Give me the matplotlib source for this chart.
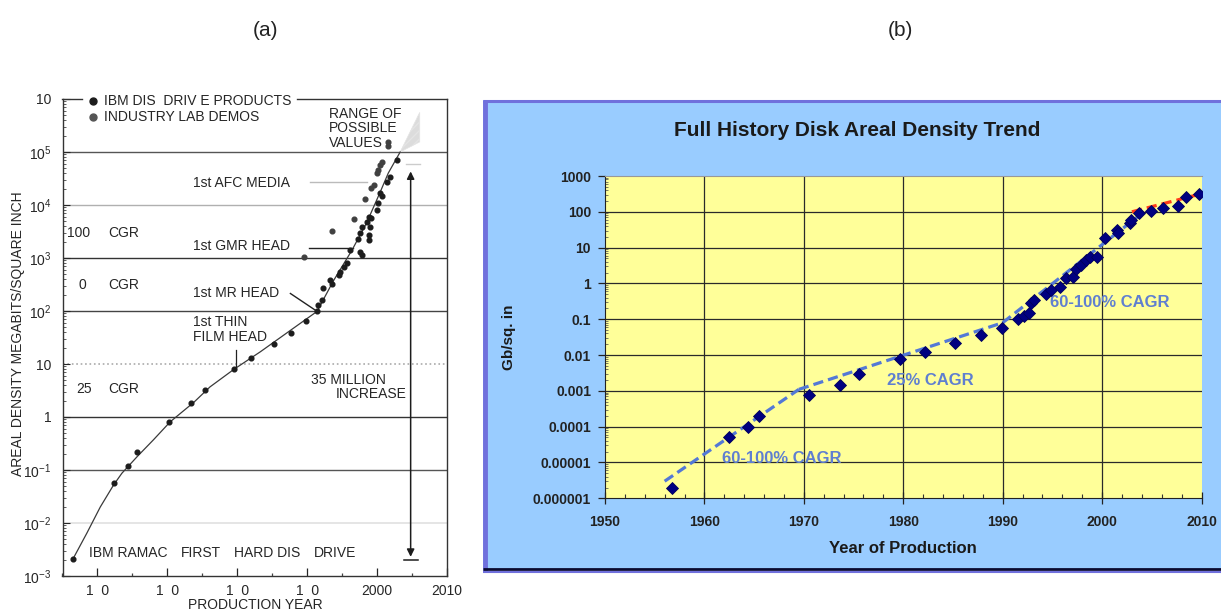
import matplotlib
matplotlib.use("Agg")
import matplotlib.pyplot as plt
from matplotlib.patches import Rectangle, Polygon
from matplotlib.lines import Line2D
from matplotlib.ticker import FixedLocator, MultipleLocator, LogLocator, NullFormatter, FixedFormatter

plt.rcParams['font.family'] = ['Liberation Sans', 'DejaVu Sans']
plt.rcParams['mathtext.fontset'] = 'custom'
plt.rcParams['mathtext.rm'] = 'Liberation Sans'
plt.rcParams['mathtext.it'] = 'Liberation Sans:italic'
plt.rcParams['mathtext.bf'] = 'Liberation Sans:bold'

# ---------------- (a) IBM areal density history, Mbit / sq. inch ----------------
ibm_years = [1956.5, 1962.3, 1964.3, 1965.6, 1970.3, 1973.4, 1975.4, 1979.6, 1982.0,
             1985.3, 1987.7, 1989.8, 1991.4, 1991.6, 1992.1, 1992.3, 1993.3, 1993.5,
             1994.5, 1994.7, 1995.2, 1995.7, 1996.1, 1997.3, 1997.6, 1997.6, 1997.8,
             1997.8, 1998.5, 1998.8, 1998.8, 1998.8, 1999.0, 1999.2, 2000.0, 2000.2,
             2000.4, 2000.7, 2001.4, 2001.9, 2002.9]
ibm_density = [0.0021, 0.056, 0.12, 0.22, 0.81, 1.8, 3.3, 8.1, 13,
               24, 38, 66, 98, 130, 160, 270, 380, 330,
               480, 550, 690, 790, 1400, 2300, 1300, 3000, 1150,
               3900, 4800, 2200, 2700, 6000, 3900, 5600, 8100, 11000,
               16600, 14500, 27500, 34000, 72000]
lab_years = [1989.5, 1993.5, 1996.7, 1998.2, 1999.2, 1999.5, 2000.0, 2000.2,
             2000.4, 2000.7, 2001.5, 2001.6]
lab_density = [1050, 3200, 5400, 12900, 21000, 24000, 40000, 46000,
               56000, 66000, 129000, 155000]
trend_years = [1956.5, 1958.5, 1960.4, 1962.3, 1963.5, 1965.7, 1968.0, 1970.4, 1973.8,
               1976.1, 1979.5, 1983.3, 1988.0, 1991.4, 1993.8, 1996.4, 1998.5, 2000.4,
               2001.6, 2003.3]
trend_density = [0.0021, 0.0065, 0.020, 0.052, 0.087, 0.18, 0.37, 0.81, 1.9,
                 3.7, 7.9, 17, 47, 98, 380, 1400, 4600, 17000,
                 40000, 100000]
range_years = [2003.3, 2006.1, 2006.1]
range_density = [1.0e5, 5.6e5, 1.55e5]

a_xticks = [1960, 1970, 1980, 1990, 2000, 2010]
a_xticklabels = ["1  0", "1  0", "1  0", "1  0", "2000", "2010"]
a_yticks = [1e-3, 1e-2, 1e-1, 1, 10, 1e2, 1e3, 1e4, 1e5, 1e6]
a_yticklabels = [r"$10^{-3}$", r"$10^{-2}$", r"$10^{-1}$", "1", "10",
                 r"$10^{2}$", r"$10^{3}$", r"$10^{4}$", r"$10^{5}$", "10"]

# ---------------- (b) full history, Gbit / sq. inch ----------------
b_years = [1956.7, 1962.5, 1964.4, 1965.5, 1970.5, 1973.6, 1975.5, 1979.7, 1982.2,
           1985.2, 1987.8, 1989.9, 1991.5, 1992.1, 1992.6, 1992.9, 1993.2, 1994.4,
           1994.9, 1995.8, 1996.4, 1997.1, 1997.4, 1997.9, 1998.4, 1998.8, 1999.5,
           2000.3, 2001.5, 2001.6, 2002.8, 2002.9, 2003.7, 2004.9, 2006.1, 2007.6,
           2008.4, 2009.7]
b_density = [2e-6, 5e-5, 1e-4, 2e-4, 7.5e-4, 1.5e-3, 3e-3, 8e-3, 1.2e-2,
             2.2e-2, 3.6e-2, 5.8e-2, 0.10, 0.12, 0.15, 0.28, 0.35, 0.52,
             0.66, 0.81, 1.4, 1.5, 2.6, 3.2, 4.5, 5.6, 5.4,
             18, 31, 25, 48, 59, 91, 107, 126, 148,
             251, 309]
cagr_early_years = [1956.0, 1969.5]
cagr_early_density = [3e-6, 1.1e-3]
cagr_mid_years = [1969.5, 1990.0]
cagr_mid_density = [1.1e-3, 8e-2]
cagr_late_years = [1990.0, 2004.0]
cagr_late_density = [8e-2, 90]
recent_years = [2003.0, 2010.0]
recent_density = [100, 320]

b_xticks = [1950, 1960, 1970, 1980, 1990, 2000, 2010]
b_yticks = [1e-6, 1e-5, 1e-4, 1e-3, 1e-2, 1e-1, 1, 10, 100, 1000]
b_yticklabels = ["0.000001", "0.00001", "0.0001", "0.001", "0.01", "0.1",
                 "1", "10", "100", "1000"]

W, H = 1221, 614
fig = plt.figure(figsize=(W / 100, H / 100), dpi=100)


def fig_box(x0, y0, x1, y1):
    return [x0 / W, 1 - y1 / H, (x1 - x0) / W, (y1 - y0) / H]


fig.text(265 / W, 1 - 30 / H, "(a)", ha='center', va='center', fontsize=15, color='#222')
fig.text(900 / W, 1 - 30 / H, "(b)", ha='center', va='center', fontsize=15, color='#222')

# ======================= panel (a) =======================
ink = '#262626'
axA = fig.add_axes(fig_box(62.5, 99, 447, 576))
axA.set_yscale('log')
axA.set_xlim(1955, 2010)
axA.set_ylim(1e-3, 1e6)
axA.set_facecolor('white')

# decade rules
rules = [(1e5, '#555555', '-', 1.0), (1e4, '#b0b0b0', '-', 1.0), (1e3, '#333333', '-', 1.0),
         (1e2, '#444444', '-', 1.0), (10, '#aaaaaa', ':', 1.2), (1, '#333333', '-', 1.0),
         (1e-1, '#555555', '-', 1.0), (1e-2, '#e0e0e0', '-', 1.2)]
for lvl, col, ls, lw in rules:
    axA.axhline(lvl, color=col, ls=ls, lw=lw, zorder=1)

axA.spines['top'].set_visible(False)
for side in ('left', 'right', 'bottom'):
    axA.spines[side].set_color('#333333')
    axA.spines[side].set_linewidth(1.0)
axA.plot([1955, 1957.8], [1e6, 1e6], color='#333333', lw=1.0, clip_on=False, zorder=3)
axA.plot([1988.5, 2010], [1e6, 1e6], color='#333333', lw=1.0, clip_on=False, zorder=3)

axA.yaxis.set_major_locator(FixedLocator(a_yticks))
axA.yaxis.set_major_formatter(FixedFormatter(a_yticklabels))
axA.yaxis.set_minor_locator(LogLocator(base=10, subs=range(2, 10), numticks=20))
axA.yaxis.set_minor_formatter(NullFormatter())
axA.xaxis.set_major_locator(FixedLocator(a_xticks))
axA.xaxis.set_major_formatter(FixedFormatter(a_xticklabels))
axA.xaxis.set_minor_locator(MultipleLocator(5))
axA.tick_params(axis='y', which='major', direction='in', length=5, width=0.8,
                labelsize=10, pad=8, colors=ink)
axA.tick_params(axis='y', which='minor', direction='in', length=2.5, width=0.6, colors='#444')
axA.tick_params(axis='x', which='major', direction='in', length=6, width=0.9,
                labelsize=10, pad=6, colors=ink)
axA.tick_params(axis='x', which='minor', direction='in', length=2, width=0.9, colors='#444')
fig.text(18 / W, 1 - 334 / H, "AREAL DENSITY MEGABITS/SQUARE INCH", rotation=90,
         ha='center', va='center', fontsize=10, color=ink)
fig.text(255 / W, 1 - 605 / H, "PRODUCTION YEAR", ha='center', va='center',
         fontsize=10, color=ink)

# trend curve and projected range
axA.plot(trend_years, trend_density, color='#3a3a3a', lw=0.9, zorder=4)
axA.add_patch(Polygon(list(zip(range_years, range_density)), closed=True,
                      facecolor='#dcdcdc', edgecolor='#e4e4e4', lw=0.5, hatch='////',
                      zorder=3))
axA.plot(ibm_years, ibm_density, 'o', ms=3.4, color='#1c1c1c', zorder=5)
axA.plot(lab_years, lab_density, 'o', ms=3.4, color='#404040', zorder=5)

# legend inside the top frame
axA.plot([1959.3], [9.1e5], 'o', ms=5, color='#1c1c1c', clip_on=False)
axA.plot([1959.3], [4.6e5], 'o', ms=5, color='#555555', clip_on=False)
axA.text(1960.9, 9.1e5, "IBM DIS  DRIV E PRODUCTS", fontsize=10, color=ink, va='center')
axA.text(1960.9, 4.6e5, "INDUSTRY LAB DEMOS", fontsize=10, color=ink, va='center')

axA.text(1993.1, 2.8e5, "RANGE OF\nPOSSIBLE\nVALUES", fontsize=10, color=ink,
         va='center', ha='left', linespacing=1.05)
axA.text(1973.7, 2.6e4, "1st AFC MEDIA", fontsize=10, color=ink, va='center')
axA.plot([1990.4, 1998.5], [2.75e4, 2.75e4], color='#bbbbbb', lw=1.0)
axA.text(1973.7, 1.7e3, "1st GMR HEAD", fontsize=10, color=ink, va='center')
axA.plot([1990.2, 1996.6], [1.55e3, 1.55e3], color='#222222', lw=1.0)
axA.text(1973.7, 2.2e2, "1st MR HEAD", fontsize=10, color=ink, va='center')
axA.plot([1987.6, 1991.1], [214, 105], color='#222222', lw=1.0)
axA.text(1973.7, 44, "1st THIN\nFILM HEAD", fontsize=10, color=ink, va='center',
         linespacing=1.1)
axA.plot([1979.8, 1979.8], [18, 8.1], color='#222222', lw=0.9)

for num, xnum, yv in [("100", 1955.7, 2950), ("0", 1957.3, 310), ("25", 1957.0, 3.4)]:
    axA.text(xnum, yv, num, fontsize=10, color=ink, va='center')
    axA.text(1961.6, yv, "CGR", fontsize=10, color=ink, va='center')

axA.text(1990.6, 5.0, "35 MILLION", fontsize=10, color=ink, va='center')
axA.text(1994.1, 2.7, "INCREASE", fontsize=10, color=ink, va='center')

for word, xw in [("IBM RAMAC", 1958.8), ("FIRST", 1971.9), ("HARD DIS", 1979.5), ("DRIVE", 1990.9)]:
    axA.text(xw, 2.7e-3, word, fontsize=10, color=ink, va='center')

axA.annotate('', xy=(2004.8, 4.3e4), xytext=(2004.8, 2.3e-3),
             arrowprops=dict(arrowstyle='<|-|>', color='#1c1c1c', lw=1.1,
                             mutation_scale=11, shrinkA=0, shrinkB=0))
axA.plot([2003.9, 2005.9], [2.0e-3, 2.0e-3], color='#1c1c1c', lw=1.1)
axA.plot([2004.2, 2006.1], [5.9e4, 5.9e4], color='#cccccc', lw=1.0)

# ======================= panel (b) =======================
panel = Rectangle((483 / W, 1 - 570 / H), (W - 483) / W + 0.01, (570 - 100) / H,
                  transform=fig.transFigure, facecolor='#99ccff', edgecolor='none', zorder=-2)
fig.patches.append(panel)
border = '#7070dc'
fig.lines.append(Line2D([484.5 / W, 484.5 / W], [1 - 571 / H, 1 - 100 / H],
                        transform=fig.transFigure, color=border, lw=3.5, zorder=-1,
                        solid_capstyle='butt'))
fig.lines.append(Line2D([483 / W, 1.0], [1 - 100.5 / H, 1 - 100.5 / H],
                        transform=fig.transFigure, color=border, lw=2.2, zorder=-1,
                        solid_capstyle='butt'))
fig.lines.append(Line2D([483 / W, 1.0], [1 - 569 / H, 1 - 569 / H],
                        transform=fig.transFigure, color='#0a0a30', lw=2.0, zorder=-1,
                        solid_capstyle='butt'))
fig.lines.append(Line2D([483 / W, 1.0], [1 - 571.5 / H, 1 - 571.5 / H],
                        transform=fig.transFigure, color=border, lw=1.5, zorder=-1,
                        solid_capstyle='butt'))

axB = fig.add_axes(fig_box(605, 176, 1201.5, 498.3))
axB.set_facecolor('#ffff99')
axB.set_yscale('log')
axB.set_xlim(1950, 2010)
axB.set_ylim(1e-6, 1e3)
for yv in b_yticks[1:-1]:
    axB.axhline(yv, color='#2a2a2a', lw=0.9, zorder=1)
for xv in b_xticks[1:-1]:
    axB.axvline(xv, color='#2a2a2a', lw=0.9, zorder=1)
axB.spines['right'].set_visible(False)
axB.spines['top'].set_color('#999999')
axB.spines['top'].set_linewidth(0.8)
axB.spines['left'].set_color('#222222')
axB.spines['bottom'].set_color('#222222')

axB.yaxis.set_major_locator(FixedLocator(b_yticks))
axB.yaxis.set_major_formatter(FixedFormatter(b_yticklabels))
axB.yaxis.set_minor_locator(LogLocator(base=10, subs=range(2, 10), numticks=20))
axB.yaxis.set_minor_formatter(NullFormatter())
axB.xaxis.set_major_locator(FixedLocator(b_xticks))
axB.xaxis.set_minor_locator(MultipleLocator(2))
axB.tick_params(axis='y', which='major', direction='out', length=5, width=0.9,
                labelsize=10, pad=5, colors='#222222')
axB.tick_params(axis='y', which='minor', direction='in', length=2, width=0.5, colors='#444')
axB.tick_params(axis='x', which='major', direction='inout', length=8, width=0.9,
                labelsize=10, pad=8, colors='#222222')
axB.tick_params(axis='x', which='minor', direction='in', length=3, width=0.8, colors='#333')
for lab in axB.get_xticklabels() + axB.get_yticklabels():
    lab.set_fontweight('bold')
axB.set_xlabel("Year of Production", fontsize=12, fontweight='bold', color='#1a1a1a', labelpad=9)
axB.set_ylabel("Gb/sq. in", fontsize=11, fontweight='bold', color='#1a1a1a', labelpad=12)
fig.text(857 / W, 1 - 130 / H, "Full History Disk Areal Density Trend", ha='center',
         va='center', fontsize=15, fontweight='bold', color='#1a1a1a')

trend_blue = '#5378d6'
for xs, ys in [(cagr_early_years, cagr_early_density), (cagr_mid_years, cagr_mid_density),
               (cagr_late_years, cagr_late_density)]:
    axB.plot(xs, ys, color=trend_blue, lw=2.3, dashes=(3.2, 1.6), zorder=3)
axB.plot(recent_years, recent_density, color='#ff3a1a', lw=2.3, dashes=(3.2, 1.6), zorder=3)
axB.plot(b_years, b_density, 'D', ms=5.8, color='#000080', mec='#00005a', mew=0.6, zorder=4)

cagr_text = '#5f7fd0'
axB.text(1961.8, 1.26e-5, "60-100% CAGR", fontsize=12, fontweight='bold', color=cagr_text,
         va='center')
axB.text(1978.4, 1.9e-3, "25% CAGR", fontsize=12, fontweight='bold', color=cagr_text,
         va='center')
axB.text(1994.8, 0.30, "60-100% CAGR", fontsize=12, fontweight='bold', color=cagr_text,
         va='center')

fig.savefig("out.png", dpi=100)
